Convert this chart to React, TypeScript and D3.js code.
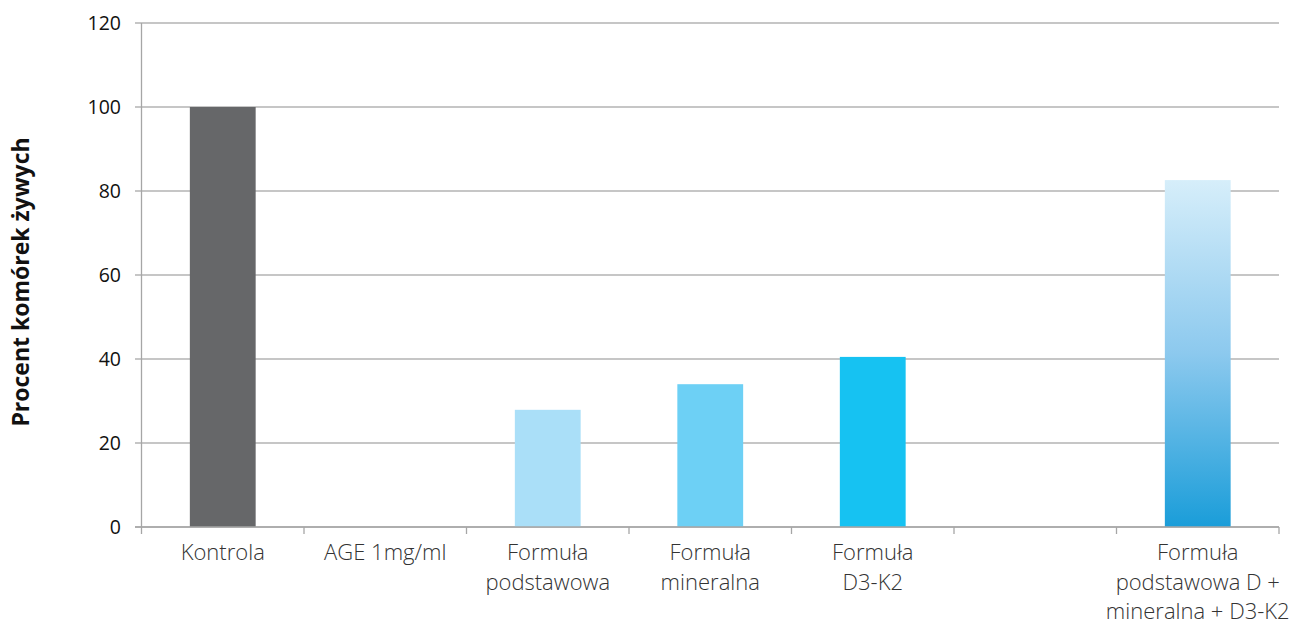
import React from "react";
import * as d3 from "d3";

const categories = [
  "Kontrola",
  "AGE 1mg/ml",
  "Formuła|podstawowa",
  "Formuła|mineralna",
  "Formuła|D3-K2",
  "",
  "Formuła|podstawowa D +|mineralna + D3-K2",
];
const values: (number | null)[] = [100, 0, 27.9, 34.0, 40.5, null, 82.6];
const colors = ["#666769", "#666769", "#aadff8", "#6dd0f5", "#16c2f2", "none", "url(#gradMix)"];
const yTicks = [0, 20, 40, 60, 80, 100, 120];

const W = 1308;
const H = 628;
const left = 141.5;
const right = 1279;
const top = 23;
const bottom = 527;

export default function App() {
  const x = d3
    .scaleBand<number>()
    .domain(d3.range(categories.length))
    .range([left, right])
    .paddingInner(0)
    .paddingOuter(0);
  const y = d3.scaleLinear().domain([0, 120]).range([bottom, top]);
  const bw = x.bandwidth() * 0.405;
  const font = "'Open Sans', 'Noto Sans', sans-serif";

  return (
    <svg width={W} height={H} style={{ position: "absolute", left: 0, top: 0, background: "#fff" }}>
      <defs>
        <linearGradient id="gradMix" x1="0" y1="0" x2="0" y2="1">
          <stop offset="0%" stopColor="#d6eefa" />
          <stop offset="50%" stopColor="#8cc9ee" />
          <stop offset="100%" stopColor="#1a9dd9" />
        </linearGradient>
      </defs>
      {/* horizontal gridlines */}
      {yTicks.map((t) => (
        <g key={t}>
          <line x1={135} x2={right} y1={y(t)} y2={y(t)} stroke="#b3b3b3" strokeWidth={1.3} />
          <text
            x={121}
            y={y(t)}
            dy="0.36em"
            textAnchor="end"
            fontFamily={font}
            fontSize={19.5}
            fill="#111"
          >
            {t}
          </text>
        </g>
      ))}
      {/* bars */}
      {values.map((v, i) =>
        v === null || v === 0 ? null : (
          <rect
            key={i}
            x={(x(i) as number) + x.bandwidth() / 2 - bw / 2}
            y={y(v)}
            width={bw}
            height={y(0) - y(v)}
            fill={colors[i]}
          />
        )
      )}
      {/* axes */}
      <line x1={left} x2={left} y1={top} y2={bottom} stroke="#a6a6a6" strokeWidth={1.3} />
      <line x1={135} x2={right} y1={bottom} y2={bottom} stroke="#a6a6a6" strokeWidth={1.5} />
      {d3.range(categories.length + 1).map((i) => {
        const xx = left + i * x.step();
        return <line key={i} x1={xx} x2={xx} y1={bottom} y2={bottom + 7} stroke="#a6a6a6" strokeWidth={1.3} />;
      })}
      {/* category labels */}
      {categories.map((c, i) => (
        <text
          key={i}
          x={(x(i) as number) + x.bandwidth() / 2}
          y={560}
          textAnchor="middle"
          fontFamily={font}
          fontSize={22}
          fontWeight={300}
          fill="#333"
        >
          {c.split("|").map((line, j) => (
            <tspan key={j} x={(x(i) as number) + x.bandwidth() / 2} dy={j === 0 ? 0 : 29.5}>
              {line}
            </tspan>
          ))}
        </text>
      ))}
      {/* y axis title */}
      <text
        transform={`translate(29, 282) rotate(-90)`}
        textAnchor="middle"
        fontFamily={font}
        fontSize={23}
        fontWeight="bold"
        fill="#111"
      >
        Procent komórek żywych
      </text>
    </svg>
  );
}
